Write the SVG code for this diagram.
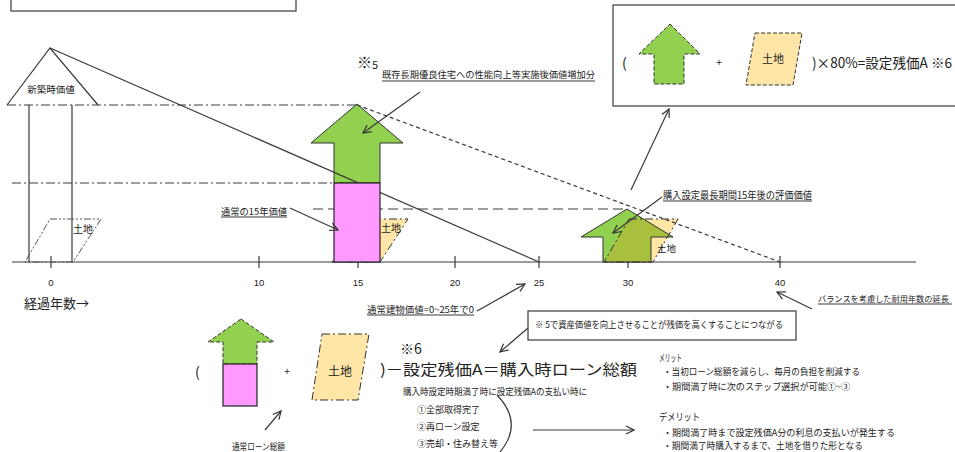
<svg xmlns="http://www.w3.org/2000/svg" width="955" height="452" viewBox="0 0 955 452">
<style>
text{font-family:"Noto Sans CJK JP","Liberation Sans",sans-serif;fill:#222}
.ln{stroke:#3a3a3a;stroke-width:1.2;fill:none}
.dd{stroke:#3a3a3a;stroke-width:1.2;fill:none;stroke-dasharray:9,3,2,3}
.ul{stroke:#222;stroke-width:0.9}
.tick{font-family:"Liberation Sans",sans-serif;font-size:9.5px;text-anchor:middle}
.grn{fill:#92D050;stroke:#333;stroke-width:1}
.pink{fill:#FF99FF;stroke:#222;stroke-width:1.2}
.tan{fill:#FFE6A6;stroke:#333;stroke-width:1;stroke-dasharray:8,3,2,3}
</style>
<defs>
<marker id="ah" viewBox="0 0 10 10" refX="9" refY="5" markerWidth="10" markerHeight="10" markerUnits="userSpaceOnUse" orient="auto"><path d="M1,1 L9,5 L1,9" fill="none" stroke="#333" stroke-width="1.2"/></marker>
<clipPath id="landclip"><polygon points="629,219 678,219 653,262 604,262"/></clipPath>
</defs>
<rect width="955" height="452" fill="#fff"/>

<g id="title-box"><rect x="11" y="-20" width="285" height="31" class="ln"/></g>

<g id="guides">
<line x1="7" y1="105" x2="357" y2="105" class="dd"/>
<line x1="12" y1="183" x2="334" y2="183" class="dd"/>
<line x1="313" y1="209" x2="626" y2="209" class="ln" stroke-dasharray="10,5"/>
</g>

<g id="axis">
<line x1="12" y1="262" x2="916" y2="262" class="ln"/>
<g class="ln"><line x1="51" y1="256" x2="51" y2="268"/><line x1="259" y1="256" x2="259" y2="268"/><line x1="358" y1="256" x2="358" y2="268"/><line x1="455" y1="256" x2="455" y2="268"/><line x1="539" y1="256" x2="539" y2="268"/><line x1="628" y1="256" x2="628" y2="268"/><line x1="780" y1="256" x2="780" y2="268"/></g>
<text class="tick" x="51" y="286">0</text><text class="tick" x="259" y="286">10</text><text class="tick" x="358" y="286">15</text><text class="tick" x="455" y="286">20</text><text class="tick" x="539" y="286">25</text><text class="tick" x="628" y="286">30</text><text class="tick" x="780" y="286">40</text>
<text x="24" y="308" font-size="13">経過年数→</text>
</g>

<g id="new-value">
<polyline points="7,105 50,48 98,105" class="ln"/>
<line x1="29" y1="105" x2="29" y2="262" class="ln"/>
<line x1="72" y1="105" x2="72" y2="262" class="ln"/>
<text x="51" y="92.5" font-size="9.5" text-anchor="middle">新築時価値</text>
</g>

<g id="land-0">
<polygon points="50,219 101,219 73,262 25,262" fill="none" stroke="#555" stroke-width="1" stroke-dasharray="7,2,2,2,2,2"/>
<text x="73" y="232.5" font-size="10">土地</text>
</g>

<g id="arrow-15">
<polygon points="357,219 408,219 380,262 332,262" class="tan"/>
<text x="381" y="232" font-size="10">土地</text>
<polygon points="357,104 403,143 380,143 380,183 334,183 334,143 311,143" class="grn"/>
</g>

<g id="decline-line"><line x1="50" y1="48" x2="539" y2="262" class="ln"/></g>

<g id="pink-15"><rect x="334" y="183" width="46" height="79" class="pink"/></g>

<g id="arrow-30">
<polygon points="629,219 678,219 653,262 604,262" fill="#FFE6A6"/>
<polygon points="627,209 673,237 651,237 651,262 603,262 603,237 581,237" fill="#92D050"/>
<polygon points="627,209 673,237 651,237 651,262 603,262 603,237 581,237" fill="#A8C03E" clip-path="url(#landclip)"/>
<polygon points="627,209 673,237 651,237 651,262 603,262 603,237 581,237" fill="none" stroke="#333" stroke-width="1"/>
<polygon points="629,219 678,219 653,262 604,262" fill="none" stroke="#333" stroke-width="1" stroke-dasharray="8,3,2,3"/>
<text x="657" y="252" font-size="9.5">土地</text>
</g>

<g id="extended-line"><line x1="357" y1="105" x2="780" y2="262" class="ln" stroke-dasharray="4,3"/></g>

<g id="formula-top">
<rect x="613" y="5" width="360" height="101" class="ln"/>
<text x="622" y="68" font-size="14">(</text>
<polygon points="670,24 700,54 684,54 684,84 654,84 654,54 639,54" fill="#92D050" stroke="#333" stroke-width="1" stroke-dasharray="4,2"/>
<text x="719" y="66" font-size="10" text-anchor="middle">+</text>
<polygon points="755,33 802,33 793,85 746,85" fill="#FFE6A6" stroke="#333" stroke-width="1" stroke-dasharray="4,2"/>
<text x="773" y="63" font-size="11" text-anchor="middle">土地</text>
<text x="812" y="68" font-size="14" textLength="140" lengthAdjust="spacingAndGlyphs">)×80%=設定残価A ※6</text>
</g>

<g id="label-5">
<text x="357" y="68" font-size="15">※<tspan font-size="11" dy="1">5</tspan></text>
<text x="382" y="78" font-size="9" textLength="213" lengthAdjust="spacingAndGlyphs">既存長期優良住宅への性能向上等実施後価値増加分</text>
<line x1="382" y1="81" x2="595" y2="81" class="ul"/>
</g>
<g id="label-15">
<text x="221" y="214.5" font-size="9.5" textLength="66" lengthAdjust="spacingAndGlyphs">通常の15年価値</text>
<line x1="221" y1="217" x2="287" y2="217" class="ul"/>
</g>
<g id="label-eval">
<text x="663" y="198.5" font-size="10" textLength="149" lengthAdjust="spacingAndGlyphs">購入設定最長期間15年後の評価価値</text>
<line x1="663" y1="201" x2="812" y2="201" class="ul"/>
</g>
<g id="label-building">
<text x="367" y="312.5" font-size="9" textLength="107" lengthAdjust="spacingAndGlyphs">通常建物価値=0~25年で0</text>
<line x1="367" y1="315" x2="474" y2="315" class="ul"/>
</g>
<g id="label-balance">
<text x="818" y="301.5" font-size="8.2">バランスを考慮した耐用年数の延長</text>
<line x1="818" y1="304" x2="952" y2="304" class="ul"/>
</g>
<g id="note-box">
<rect x="528" y="311" width="268" height="29" class="ln"/>
<text x="535" y="327.5" font-size="9" textLength="248" lengthAdjust="spacingAndGlyphs">※ 5で資産価値を向上させることが残価を高くすることにつながる</text>
</g>

<g id="formula-bottom">
<text x="195" y="377" font-size="14">(</text>
<polygon points="241,319 274,342 257,342 257,364 223,364 223,342 208,342" fill="#92D050" stroke="#333" stroke-width="1" stroke-dasharray="4,2"/>
<rect x="223" y="364" width="34" height="42" class="pink"/>
<text x="287" y="375" font-size="10" text-anchor="middle">+</text>
<polygon points="322,334 369,334 358,400 312,400" class="tan"/>
<text x="340" y="376" font-size="12" text-anchor="middle">土地</text>
<text x="400" y="354" font-size="14">※6</text>
<text x="380" y="375" font-size="15" textLength="257" lengthAdjust="spacingAndGlyphs">)－設定残価A＝購入時ローン総額</text>
<text x="232" y="450" font-size="9" textLength="53" lengthAdjust="spacingAndGlyphs">通常ローン総額</text>
</g>

<g id="options">
<text x="403" y="395" font-size="9" textLength="184" lengthAdjust="spacingAndGlyphs">購入時設定時期満了時に設定残価Aの支払い時に</text>
<text x="417" y="413" font-size="9">①全部取得完了</text>
<text x="417" y="430" font-size="9">②再ローン設定</text>
<text x="417" y="447" font-size="9">③売却・住み替え等</text>
<path d="M497,395 Q524,423 500,452" class="ln" stroke-width="1.6"/>
</g>

<g id="merits">
<text x="659" y="362" font-size="10" textLength="23" lengthAdjust="spacingAndGlyphs">メリット</text>
<text x="663" y="375" font-size="9" textLength="197" lengthAdjust="spacingAndGlyphs">・当初ローン総額を減らし、毎月の負担を削減する</text>
<text x="663" y="390" font-size="9" textLength="187" lengthAdjust="spacingAndGlyphs">・期間満了時に次のステップ選択が可能①~③</text>
<text x="659" y="421" font-size="10" textLength="41" lengthAdjust="spacingAndGlyphs">デメリット</text>
<text x="663" y="436" font-size="9" textLength="232" lengthAdjust="spacingAndGlyphs">・期間満了時まで設定残価A分の利息の支払いが発生する</text>
<text x="663" y="449" font-size="9" textLength="200" lengthAdjust="spacingAndGlyphs">・期間満了時購入するまで、土地を借りた形となる</text>
</g>

<g id="connectors" class="ln" marker-end="url(#ah)">
<line x1="420" y1="92" x2="363" y2="133"/>
<line x1="290" y1="208" x2="338" y2="230"/>
<line x1="662" y1="197" x2="613" y2="233"/>
<line x1="631" y1="190" x2="669" y2="109"/>
<line x1="477" y1="311" x2="525" y2="284"/>
<line x1="812" y1="309" x2="777" y2="292"/>
<line x1="528" y1="328" x2="500" y2="352"/>
<line x1="265" y1="430" x2="281" y2="411"/>
<line x1="533" y1="430" x2="634" y2="430"/>
</g>
</svg>
